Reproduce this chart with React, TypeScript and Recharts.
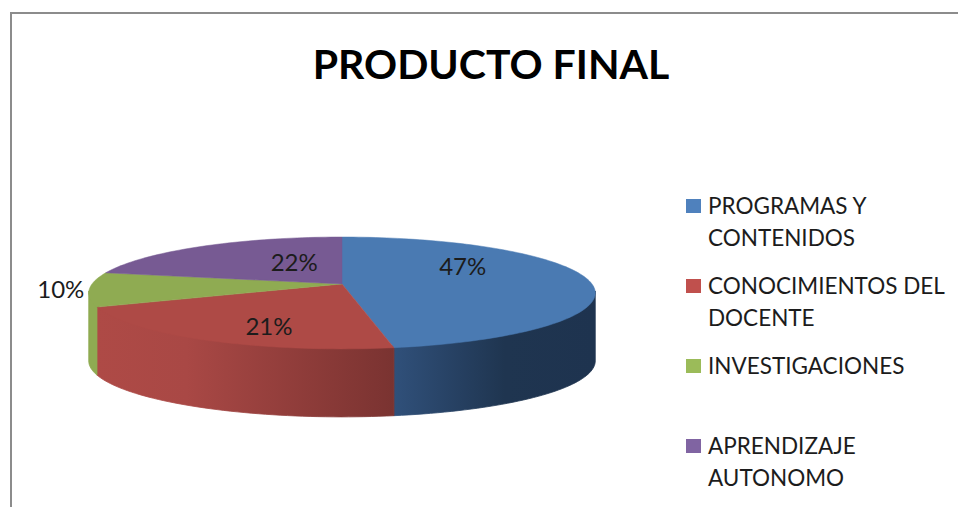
import React from "react";
import { Legend, Pie, PieChart } from "recharts";

const CATEGORIES = [
  "PROGRAMAS Y CONTENIDOS",
  "CONOCIMIENTOS DEL DOCENTE",
  "INVESTIGACIONES",
  "APRENDIZAJE AUTONOMO",
];
// read from the slice boundaries, the labels round these to 47/21/10/22
const VALUES = [47.2, 21.3, 9.9, 21.6];
const TOP_COLORS = ["#4a7ab2", "#ae4a46", "#8fab52", "#775a93"];
const WALL_FILLS = ["url(#wallBlue)", "url(#wallRed)", "#8fab52", "#5f4876"];
const LEGEND_COLORS = ["#4f81bd", "#c0504d", "#9bbb59", "#8064a2"];

const data = CATEGORIES.map((name, i) => ({ name, value: VALUES[i], fill: TOP_COLORS[i] }));
const wallData = CATEGORIES.map((name, i) => ({ name, value: VALUES[i], fill: WALL_FILLS[i] }));

// 3D look: the flat pie is tilted and given a little perspective
const TILT_RY = 54.5;
const PERSPECTIVE = 0.16;
const DEPTH = 68;
const FONT = "Lato, 'Open Sans', sans-serif";

// offset of each percent label from the middle of its slice
const LABEL_POS = [
  { frac: 0.48, dx: 2, dy: -16 },
  { frac: 0.3, dx: -36, dy: 26 },
  { frac: 1.13, dx: 5, dy: -2 },
  { frac: 0.4, dx: 12, dy: -6 },
];

// angle is recharts' angle, r is 0..1 from the apex
function project(cx: number, cy: number, R: number, angle: number, r = 1) {
  const rad = (angle * Math.PI) / 180;
  const u = r * Math.cos(rad);
  const v = -r * Math.sin(rad);
  const s = 1 / (1 - PERSPECTIVE * v);
  return { x: cx + R * u * s, y: cy + TILT_RY * v * s };
}

function arcPoints(cx: number, cy: number, R: number, from: number, to: number) {
  const steps = Math.max(2, Math.ceil(Math.abs(to - from) / 1.5));
  const pts = [];
  for (let i = 0; i <= steps; i++) {
    pts.push(project(cx, cy, R, from + ((to - from) * i) / steps));
  }
  return pts;
}

const toPath = (pts: { x: number; y: number }[]) =>
  pts.map((p, i) => `${i ? "L" : "M"}${p.x.toFixed(2)},${p.y.toFixed(2)}`).join(" ");

function TopSlice(props: any) {
  const { cx, cy, outerRadius, startAngle, endAngle, fill } = props;
  const pts = arcPoints(cx, cy, outerRadius, startAngle, endAngle);
  return <path d={`M${cx},${cy} ${toPath(pts).replace("M", "L")} Z`} fill={fill} stroke={fill} strokeWidth={0.5} />;
}

function WallSlice(props: any) {
  const { cx, cy, outerRadius, startAngle, endAngle, fill } = props;
  // only the front of the rim is visible, between the two horizontal extremes
  const limit = (Math.asin(PERSPECTIVE) * 180) / Math.PI;
  const a = Math.min(startAngle, -limit);
  const b = Math.max(endAngle, -180 + limit);
  if (a <= b) return <g />;
  const pts = arcPoints(cx, cy, outerRadius, a, b);
  const lower = pts.map((p) => ({ x: p.x, y: p.y + DEPTH })).reverse();
  // upper edge pulled up a little so no seam shows under the top face
  const upper = pts.map((p) => ({ x: p.x, y: p.y - 2 }));
  return <path d={`${toPath(upper)} ${toPath(lower).replace("M", "L")} Z`} fill={fill} stroke={fill} strokeWidth={0.8} />;
}

function renderPercent(props: any) {
  const { cx, cy, outerRadius, midAngle, percent, index } = props;
  const pos = LABEL_POS[index];
  const p = project(cx, cy, outerRadius, midAngle, pos.frac);
  return (
    <text
      x={p.x + pos.dx}
      y={p.y + pos.dy}
      textAnchor="middle"
      dominantBaseline="central"
      fontFamily={FONT}
      fontSize={24}
      fill="#1c1c1c"
    >
      {`${Math.round(percent * 100)}%`}
    </text>
  );
}

function LegendList({ payload }: any) {
  const items = (payload || []).filter((entry: any) => entry.type !== "none");
  return (
    <ul style={{ listStyle: "none", margin: 0, padding: 0, fontFamily: FONT, fontSize: 22.5, lineHeight: "32px", color: "#1c1c1c" }}>
      {items.map((entry: any, i: number) => (
        <li key={entry.value} style={{ height: 80, display: "flex" }}>
          <span style={{ width: 15, height: 14, marginTop: 9, marginRight: 7, flexShrink: 0, background: LEGEND_COLORS[i] }} />
          <span style={{ width: 245 }}>{entry.value}</span>
        </li>
      ))}
    </ul>
  );
}

export default function App() {
  return (
    <div style={{ position: "absolute", left: 0, top: 0, width: 958, height: 507, overflow: "hidden", background: "#fff" }}>
      <div style={{ position: "absolute", left: 10, top: 12, width: 1000, height: 600, border: "2px solid #8c8c8c" }} />
      <PieChart width={958} height={507} margin={{ top: 0, right: 0, bottom: 0, left: 0 }} style={{ position: "absolute", left: 0, top: 0 }}>
        <defs>
          <linearGradient id="wallBlue" x1="0" y1="0" x2="1" y2="0">
            <stop offset="0%" stopColor="#30507a" />
            <stop offset="55%" stopColor="#1f3550" />
            <stop offset="100%" stopColor="#1e334f" />
          </linearGradient>
          <linearGradient id="wallRed" x1="0" y1="0" x2="1" y2="0">
            <stop offset="0%" stopColor="#ae4a46" />
            <stop offset="30%" stopColor="#a94845" />
            <stop offset="100%" stopColor="#7a3331" />
          </linearGradient>
        </defs>
        <text x={491} y={63} textAnchor="middle" dominantBaseline="central" fontFamily={FONT} fontWeight={700} fontSize={41} fill="#000">
          PRODUCTO FINAL
        </text>
        <Pie
          data={wallData}
          dataKey="value"
          nameKey="name"
          cx={342}
          cy={284}
          outerRadius={250}
          startAngle={90}
          endAngle={-270}
          legendType="none"
          shape={WallSlice}
          label={false}
          isAnimationActive={false}
        />
        <Pie
          data={data}
          dataKey="value"
          nameKey="name"
          cx={342}
          cy={284}
          outerRadius={250}
          startAngle={90}
          endAngle={-270}
          shape={TopSlice}
          label={renderPercent}
          labelLine={false}
          isAnimationActive={false}
        />
        <Legend
          layout="vertical"
          itemSorter={null}
          content={<LegendList />}
          wrapperStyle={{ position: "absolute", left: 686, top: 190, width: 272, height: 320 }}
        />
      </PieChart>
    </div>
  );
}
